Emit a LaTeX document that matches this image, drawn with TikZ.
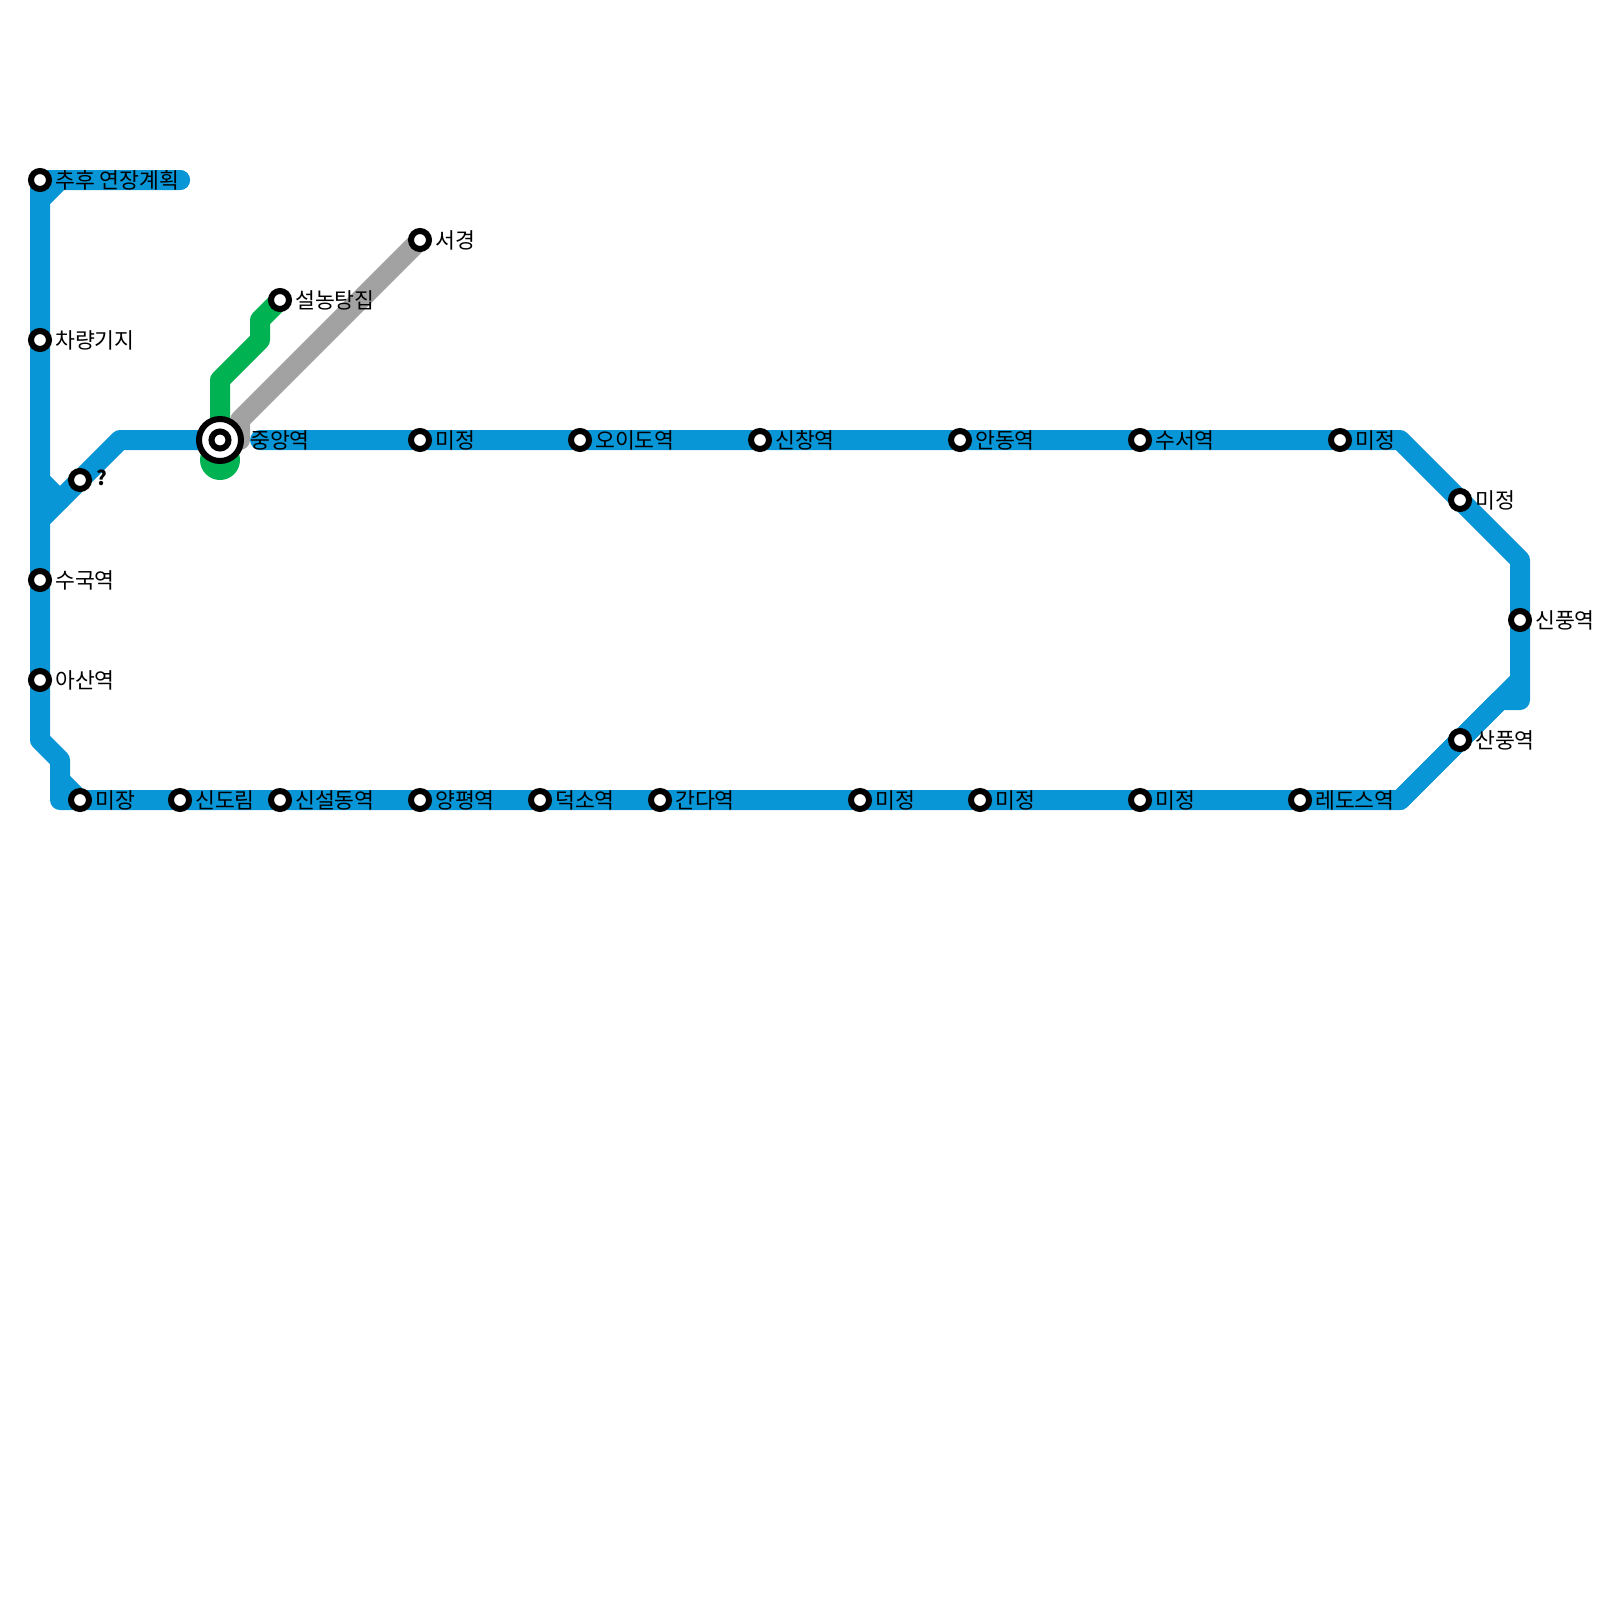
\documentclass[tikz,border=0pt]{standalone}
\usepackage{fontspec}
\setmainfont{Noto Sans CJK KR}
\definecolor{lineblue}{HTML}{0896D7}
\definecolor{linegreen}{HTML}{00B251}
\definecolor{linegray}{HTML}{A2A2A2}
\tikzset{
  x=1pt,y=-1pt,
  route/.style={line width=20pt,line cap=round,line join=round},
  blueroute/.style={route,draw=lineblue},
  greenroute/.style={route,draw=linegreen},
  grayroute/.style={route,draw=linegray},
  stn/.style={circle,draw=black,fill=white,line width=6pt,inner sep=0pt,minimum size=18pt},
  lbl/.style={font=\fontsize{21.6pt}{22pt}\selectfont,anchor=west,inner sep=0pt,text=black}
}
\begin{document}
\begin{tikzpicture}
\useasboundingbox (0,0) rectangle (1600,1600);
% anchors
\foreach \n/\x/\y in {s1/40/180,s2/40/340,s3/80/480,s4/40/580,s5/40/680,s6/80/800,s7/180/800,s8/280/800,s9/420/800,s10/540/800,s11/660/800,s12/860/800,s13/980/800,s14/1140/800,s15/1300/800,s16/1460/740,s17/1520/620,s18/1460/500,s19/1340/440,s20/1140/440,s21/960/440,s22/760/440,s23/580/440,s24/420/440,hub/220/440,s26/420/240,s27/280/300}
  {\coordinate (c\n) at (\x,\y);}
\coordinate (a1) at (180,180);
\coordinate (a2) at (60,180);
\coordinate (a3) at (40,200);
\coordinate (a4) at (40,740);
\coordinate (a5) at (60,760);
\coordinate (a6) at (60,800);
\coordinate (a7) at (1400,800);
\coordinate (a8) at (1520,680);
\coordinate (a9) at (1520,700);
\coordinate (a10) at (1500,700);
\coordinate (a11) at (1520,560);
\coordinate (a12) at (1400,440);
\coordinate (a13) at (260,440);
\coordinate (a14) at (120,440);
\coordinate (a15) at (40,520);
\coordinate (a16) at (40,480);
\coordinate (a17) at (60,500);
\coordinate (a18) at (60,780);
\coordinate (g1) at (260,320);
\coordinate (g2) at (260,340);
\coordinate (g3) at (220,380);
\coordinate (g4) at (220,460);
\coordinate (h1) at (240,420);
\coordinate (h2) at (240,440);
% blue
\draw[blueroute] (a1) -- (a2) -- (a3) -- (a4) -- (a5) -- (a6) -- (a7) -- (a8);
\draw[blueroute] (a7) -- (a10) -- (a9) -- (a11) -- (a12) -- (a13);
\draw[blueroute] (chub) -- (a14) -- (a15);
\draw[blueroute] (a16) -- (a17);
\draw[blueroute] (a18) -- (cs6);
\draw[blueroute] (a1) -- (cs1);
\draw[blueroute] (cs1) -- (a3);
% green
\draw[greenroute] (cs27) -- (g1) -- (g2) -- (g3) -- (g4);
\fill[linegreen] (g4) circle[radius=20pt];
% gray
\draw[grayroute] (cs26) -- (h1) -- (h2);
% stations
\foreach \n in {s1,s2,s3,s4,s5,s6,s7,s8,s9,s10,s11,s12,s13,s14,s15,s16,s17,s18,s19,s20,s21,s22,s23,s24,s26,s27}
  {\node[stn] (\n) at (c\n) {};}
\node[circle,draw=black,fill=white,line width=6pt,inner sep=0pt,minimum size=42pt] (hubo) at (chub) {};
\node[stn,minimum size=17pt] (hub) at (chub) {};
% labels
\node[lbl] (l1) at (55,180) {추후 연장계획};
\node[lbl] (l2) at (55,340) {차량기지};
\node[lbl,font=\fontsize{20pt}{20pt}\selectfont\bfseries] (l3) at (96,478) {?};
\node[lbl] (l4) at (55,580) {수국역};
\node[lbl] (l5) at (55,680) {아산역};
\node[lbl] (l6) at (95,800) {미장};
\node[lbl] (l7) at (195,800) {신도림};
\node[lbl] (l8) at (295,800) {신설동역};
\node[lbl] (l9) at (435,800) {양평역};
\node[lbl] (l10) at (555,800) {덕소역};
\node[lbl] (l11) at (675,800) {간다역};
\node[lbl] (l12) at (875,800) {미정};
\node[lbl] (l13) at (995,800) {미정};
\node[lbl] (l14) at (1155,800) {미정};
\node[lbl] (l15) at (1315,800) {레도스역};
\node[lbl] (l16) at (1475,740) {산풍역};
\node[lbl] (l17) at (1535,620) {신풍역};
\node[lbl] (l18) at (1475,500) {미정};
\node[lbl] (l19) at (1355,440) {미정};
\node[lbl] (l20) at (1155,440) {수서역};
\node[lbl] (l21) at (975,440) {안동역};
\node[lbl] (l22) at (775,440) {신창역};
\node[lbl] (l23) at (595,440) {오이도역};
\node[lbl] (l24) at (435,440) {미정};
\node[lbl] (l25) at (250,440) {중앙역};
\node[lbl] (l26) at (435,240) {서경};
\node[lbl] (l27) at (295,300) {설농탕집};
\end{tikzpicture}
\end{document}
